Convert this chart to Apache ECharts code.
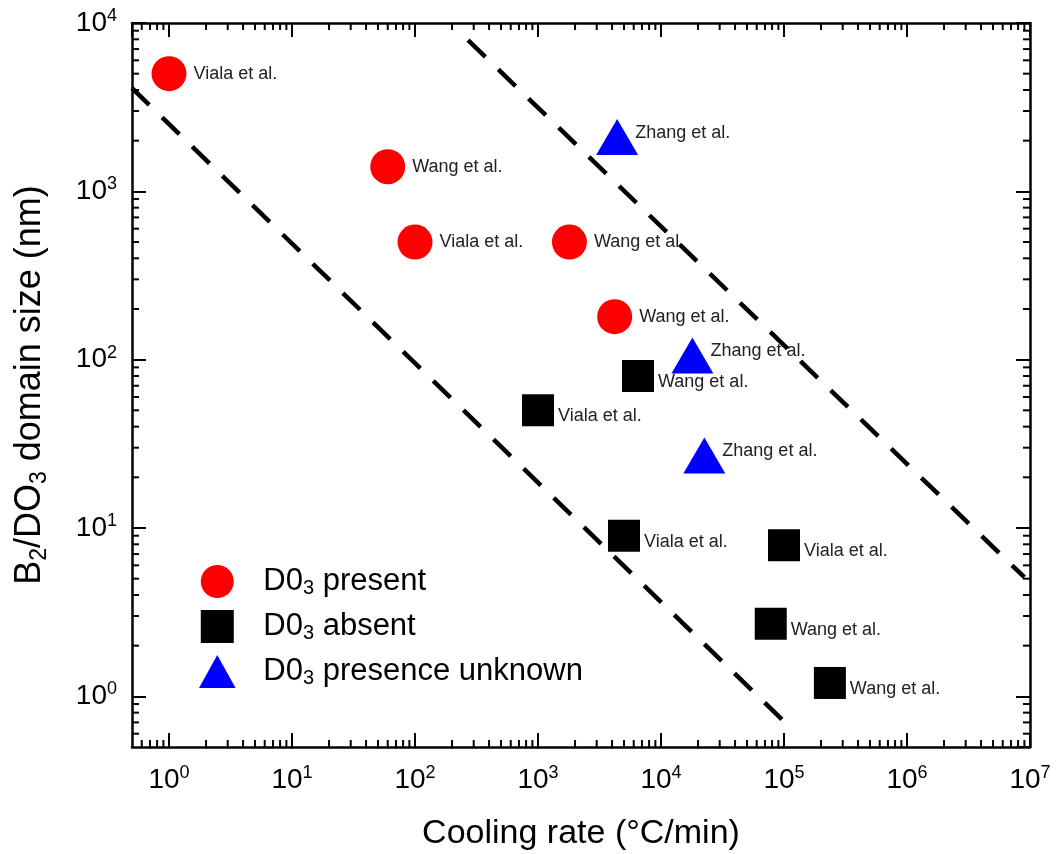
<!DOCTYPE html>
<html>
<head>
<meta charset="utf-8">
<script src="https://cdn.jsdelivr.net/npm/echarts@6/dist/echarts.min.js"></script>
<style>
  html, body { margin: 0; padding: 0; background: #fff; }
  #chart { width: 1057px; height: 854px; }
</style>
</head>
<body>
<div id="chart"></div>
<script>
const FONT = '"Liberation Sans", Arial, Helvetica, sans-serif';

// Axis ranges (log scales)
const rateRange = [0.5, 1e7];     // cooling rate, °C/min
const sizeRange = [0.5, 1e4];     // domain size, nm

// D0_3 present
const presentRate = [1, 60, 100, 1800, 4200];
const presentSize = [5000, 1400, 500, 500, 180];
const presentRef  = ['Viala et al.', 'Wang et al.', 'Viala et al.', 'Wang et al.', 'Wang et al.'];

// D0_3 absent
const absentRate = [6500, 1000, 5000, 100000, 78000, 236000];
const absentSize = [80, 50, 9, 7.9, 2.7, 1.2];
const absentRef  = ['Wang et al.', 'Viala et al.', 'Viala et al.', 'Viala et al.', 'Wang et al.', 'Wang et al.'];

// D0_3 presence unknown
const unknownRate = [4400, 18000, 22500];
const unknownSize = [2100, 106, 27];
const unknownRef  = ['Zhang et al.', 'Zhang et al.', 'Zhang et al.'];

// Dashed boundary lines (end points)
const lowerBoundRate = [0.5, 118000];
const lowerBoundSize = [4100, 0.63];
const upperBoundRate = [270, 9.0e6];
const upperBoundSize = [7900, 5.1];

const seriesNames = ['D0₃ present', 'D0₃ absent', 'D0₃ presence unknown'];

// legend icons: filled circle, square and triangle
const legendIcons = [
  'circle',
  'path://M0,0L30,0L30,30L0,30Z',
  'path://M20.5,0L41,37L0,37Z'
];

function points(xs, ys, refs) {
  return xs.map((x, i) => ({ value: [x, ys[i]], name: refs[i] }));
}
function pairs(xs, ys) {
  return xs.map((x, i) => [x, ys[i]]);
}

// minor tick values: 2..9 × 10^k inside a range
function minorValues(range) {
  const out = [];
  const k0 = Math.floor(Math.log10(range[0]));
  const k1 = Math.ceil(Math.log10(range[1]));
  for (let k = k0; k <= k1; k++) {
    for (let m = 2; m <= 9; m++) {
      const v = m * Math.pow(10, k);
      if (v > range[0] && v < range[1]) out.push(v);
    }
  }
  return out;
}

function powerLabel(v) {
  const lg = Math.log10(v);
  const k = Math.round(lg);
  if (Math.abs(lg - k) > 1e-6) return '';
  return '{b|10}{s|' + k + '}';
}

const MAJOR = 14, MINOR = 7;
const tickStyle = { stroke: '#000', lineWidth: 2 };

function renderMinorX(params, api) {
  const cs = params.coordSys;
  const x = api.coord([api.value(0), api.value(1)])[0];
  const yb = cs.y + cs.height;
  return {
    type: 'group',
    children: [
      { type: 'line', shape: { x1: x, y1: yb, x2: x, y2: yb - MINOR }, style: tickStyle },
      { type: 'line', shape: { x1: x, y1: cs.y, x2: x, y2: cs.y + MINOR }, style: tickStyle }
    ]
  };
}
function renderMinorY(params, api) {
  const cs = params.coordSys;
  const y = api.coord([api.value(0), api.value(1)])[1];
  const xr = cs.x + cs.width;
  return {
    type: 'group',
    children: [
      { type: 'line', shape: { x1: cs.x, y1: y, x2: cs.x + MINOR, y2: y }, style: tickStyle },
      { type: 'line', shape: { x1: xr, y1: y, x2: xr - MINOR, y2: y }, style: tickStyle }
    ]
  };
}

const labelRich = {
  b: { fontSize: 28, fontFamily: FONT, color: '#000', lineHeight: 32 },
  s: { fontSize: 18, fontFamily: FONT, color: '#000', lineHeight: 16, verticalAlign: 'top' }
};

const axisCommon = {
  type: 'log',
  axisLine: { show: true, onZero: false, lineStyle: { color: '#000', width: 2.5 } },
  axisTick: { show: true, inside: true, length: MAJOR, lineStyle: { color: '#000', width: 2 } },
  splitLine: { show: false },
  minorTick: { show: false },
  minorSplitLine: { show: false }
};

const pointLabel = {
  show: true,
  position: 'right',
  formatter: '{b}',
  fontFamily: FONT,
  fontSize: 18,
  color: '#222'
};

const chart = echarts.init(document.getElementById('chart'), null, { renderer: 'canvas' });

chart.setOption({
  backgroundColor: '#fff',
  animation: false,
  grid: { left: 132, right: 27, top: 23, bottom: 107, outerBoundsMode: 'none' },
  xAxis: [
    Object.assign({}, axisCommon, {
      position: 'bottom',
      min: rateRange[0], max: rateRange[1],
      splitNumber: 8,
      name: 'Cooling rate (°C/min)',
      nameLocation: 'middle',
      nameGap: 70,
      nameTextStyle: { fontFamily: FONT, fontSize: 34, color: '#000' },
      axisLabel: { show: true, margin: 17, formatter: powerLabel, rich: labelRich, showMinLabel: false }
    }),
    Object.assign({}, axisCommon, {
      position: 'top',
      min: rateRange[0], max: rateRange[1],
      splitNumber: 8,
      axisLabel: { show: false }
    })
  ],
  yAxis: [
    Object.assign({}, axisCommon, {
      position: 'left',
      min: sizeRange[0], max: sizeRange[1],
      splitNumber: 5,
      name: '{t|B}{s|2}{t|/DO}{s|3}{t| domain size (nm)}',
      nameLocation: 'middle',
      nameGap: 81,
      nameRotate: 90,
      nameTextStyle: {
        rich: {
          t: { fontFamily: FONT, fontSize: 36, color: '#000', lineHeight: 42 },
          s: { fontFamily: FONT, fontSize: 23, color: '#000', lineHeight: 20, verticalAlign: 'bottom' }
        }
      },
      axisLabel: { show: true, margin: 15, formatter: powerLabel, rich: labelRich, showMinLabel: false }
    }),
    Object.assign({}, axisCommon, {
      position: 'right',
      min: sizeRange[0], max: sizeRange[1],
      splitNumber: 5,
      axisLabel: { show: false }
    })
  ],
  legend: {
    data: seriesNames.map((name, i) => ({ name: name, icon: legendIcons[i] })),
    orient: 'vertical',
    left: 194,
    top: 560,
    itemWidth: 42,
    itemHeight: 33,
    itemGap: 12,
    symbolKeepAspect: true,
    selectedMode: false,
    formatter: name => '{p|}' + name.split('₃').map(s => '{t|' + s + '}').join('{s|3}'),
    textStyle: {
      rich: {
        p: { width: 20 },
        t: { fontFamily: FONT, fontSize: 31, color: '#000', lineHeight: 33 },
        s: { fontFamily: FONT, fontSize: 20, color: '#000', lineHeight: 13, verticalAlign: 'bottom' }
      }
    }
  },
  series: [
    {
      type: 'custom', name: 'minor-x', silent: true, z: 5,
      xAxisIndex: 0, yAxisIndex: 0,
      renderItem: renderMinorX,
      encode: { x: 0, y: 1 },
      data: minorValues(rateRange).map(v => [v, 1])
    },
    {
      type: 'custom', name: 'minor-y', silent: true, z: 5,
      xAxisIndex: 0, yAxisIndex: 0,
      renderItem: renderMinorY,
      encode: { x: 0, y: 1 },
      data: minorValues(sizeRange).map(v => [1, v])
    },
    {
      name: seriesNames[0], type: 'scatter',
      symbol: 'circle', symbolSize: 35,
      itemStyle: { color: '#ff0000', opacity: 1 },
      label: Object.assign({}, pointLabel, { distance: 7 }),
      data: points(presentRate, presentSize, presentRef), z: 3
    },
    {
      name: seriesNames[1], type: 'scatter',
      symbol: 'rect', symbolSize: 32,
      itemStyle: { color: '#000000', opacity: 1 },
      label: Object.assign({}, pointLabel, { distance: 4, offset: [0, 6] }),
      data: points(absentRate, absentSize, absentRef), z: 3
    },
    {
      name: seriesNames[2], type: 'scatter',
      symbol: 'triangle', symbolSize: [42, 36],
      itemStyle: { color: '#0000ff', opacity: 1 },
      label: Object.assign({}, pointLabel, { distance: -3, offset: [0, -4] }),
      data: points(unknownRate, unknownSize, unknownRef), z: 3
    },
    {
      name: 'lower bound', type: 'line', silent: true,
      showSymbol: false, symbol: 'none', z: 4,
      lineStyle: { color: '#000', width: 4.5, type: [24, 18], cap: 'butt' },
      data: pairs(lowerBoundRate, lowerBoundSize)
    },
    {
      name: 'upper bound', type: 'line', silent: true,
      showSymbol: false, symbol: 'none', z: 4,
      lineStyle: { color: '#000', width: 4.5, type: [24, 18], cap: 'butt' },
      data: pairs(upperBoundRate, upperBoundSize)
    }
  ]
});
</script>
</body>
</html>
